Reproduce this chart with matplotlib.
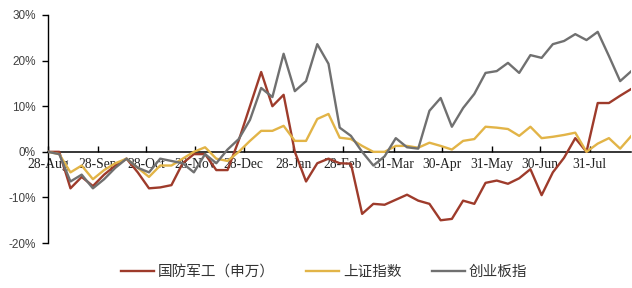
import pandas as pd
import matplotlib
matplotlib.use("Agg")
import matplotlib.pyplot as plt

# ---------------------------
# data (weekly, %)
# ---------------------------
dates = pd.date_range("2015-08-28", periods=53, freq="7D")

defense = [0, 0, -8, -5.5, -7.5, -5, -3, -1.5, -4.5, -8,
           -7.8, -7.3, -2.5, -0.5, -0.5, -4, -4, 2.5, 10, 17.5,
           10, 12.5, 0, -6.5, -2.5, -1.5, -2.5, -2.6, -13.6, -11.4,
           -11.6, -10.5, -9.4, -10.7, -11.4, -15, -14.7, -10.7, -11.4, -6.8,
           -6.3, -7, -5.8, -3.8, -9.5, -4.5, -1.3, 3, 0, 10.7,
           10.7, 12.3, 13.8]

shanghai = [0, -0.5, -4.5, -3, -6, -4, -2.5, -1.5, -3.5, -5.5,
            -3, -3, -1.5, 0, 1, -1.5, -2, 0, 2.4, 4.6,
            4.6, 5.7, 2.4, 2.4, 7.2, 8.3, 3.1, 2.8, 1.3, 0,
            0, 1.3, 1.3, 0.9, 2, 1.3, 0.5, 2.4, 2.8, 5.5,
            5.3, 5, 3.5, 5.5, 3, 3.3, 3.7, 4.2, 0, 1.8,
            3, 0.7, 3.5]

chinext = [0, -0.5, -6.5, -5, -8, -6, -3.5, -1.5, -3.5, -4.5,
           -1.5, -2, -2.5, -4.5, -0.5, -2.5, 0.5, 2.8, 7, 14,
           12, 21.5, 13.3, 15.5, 23.6, 19.3, 5.3, 3.5, 0, -3,
           -1, 3, 1, 0.7, 9, 11.8, 5.5, 9.6, 12.7, 17.3,
           17.7, 19.5, 17.3, 21.2, 20.6, 23.6, 24.3, 25.8, 24.5, 26.3,
           21, 15.5, 17.7]

tick_dates = pd.to_datetime(["2015-08-28", "2015-09-28", "2015-10-28", "2015-11-28",
                             "2015-12-28", "2016-01-28", "2016-02-28", "2016-03-31",
                             "2016-04-30", "2016-05-31", "2016-06-30", "2016-07-31"])
tick_labels = ["28-Aug", "28-Sep", "28-Oct", "28-Nov", "28-Dec", "28-Jan",
               "28-Feb", "31-Mar", "30-Apr", "31-May", "30-Jun", "31-Jul"]
y_ticks = [-20, -10, 0, 10, 20, 30]

names = ["国防军工（申万）", "上证指数", "创业板指"]
colors = ["#9E3B2B", "#E2B447", "#707070"]

# ---------------------------
# plot
# ---------------------------
fig = plt.figure(figsize=(6.32, 2.88), dpi=100)
ax = fig.add_axes([0.076, 0.156, 0.923, 0.792])

for vals, name, c in zip([defense, shanghai, chinext], names, colors):
    ax.plot(dates, vals, color=c, lw=1.7, label=name, zorder=3)

ax.spines["top"].set_visible(False)
ax.spines["right"].set_visible(False)
ax.spines["bottom"].set_position(("data", 0))
ax.spines["bottom"].set_linewidth(1.1)
ax.spines["left"].set_linewidth(1.0)
ax.tick_params(axis="x", direction="in", length=4, pad=4.5, width=1)
ax.tick_params(axis="y", direction="out", length=4, pad=5, width=1)

ax.set_xlim(dates[0], dates[-1])
ax.set_ylim(-20, 30)
ax.set_yticks(y_ticks, labels=[f"{v}%" for v in y_ticks])
ax.set_xticks(tick_dates, labels=tick_labels)
for t in ax.get_yticklabels():
    t.set_fontfamily("Liberation Sans")
    t.set_fontsize(8.5)
    t.set_color("#404040")
for t in ax.get_xticklabels():
    t.set_fontfamily("Liberation Serif")
    t.set_fontsize(9.8)
    t.set_color("#222222")

leg = fig.legend(loc="center", bbox_to_anchor=(0.513, 0.055), ncol=3,
                 frameon=False, handlelength=2.3, handletextpad=0.25,
                 columnspacing=2.1,
                 prop={"family": ["Noto Sans CJK SC", "DejaVu Sans"], "size": 10.5})
for t in leg.get_texts():
    t.set_color("#333333")

fig.savefig("out.png", dpi=100)
